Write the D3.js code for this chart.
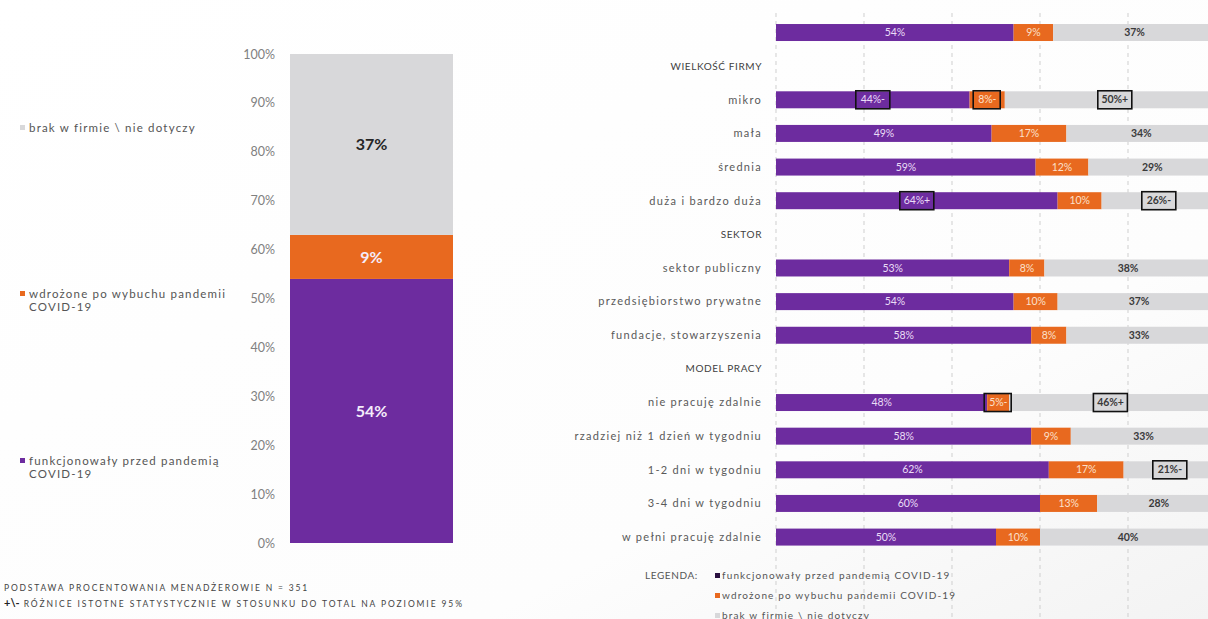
<!DOCTYPE html>
<html lang="pl">
<head>
<meta charset="utf-8">
<script src="https://cdn.jsdelivr.net/npm/d3@7"></script>
<style>
  html, body { margin: 0; padding: 0; background: #fdfdfd; }
  svg { display: block; font-family: Lato, "Liberation Sans", sans-serif; }
</style>
</head>
<body>
<svg id="chart" width="1208" height="619"></svg>
<script>
// --- Overall result (single stacked column) ---
const seriesNames = [
  "funkcjonowały przed pandemią COVID-19",
  "wdrożone po wybuchu pandemii COVID-19",
  "brak w firmie \\ nie dotyczy"
];
const totalValues = [54, 9, 37];
const leftTicks = [0, 10, 20, 30, 40, 50, 60, 70, 80, 90, 100];

// --- Breakdown by subgroup (horizontal stacked bars) ---
const rowLabels = [
  "", "WIELKOŚĆ FIRMY", "mikro", "mała", "średnia", "duża i bardzo duża",
  "SEKTOR", "sektor publiczny", "przedsiębiorstwo prywatne", "fundacje, stowarzyszenia",
  "MODEL PRACY", "nie pracuję zdalnie", "rzadziej niż 1 dzień w tygodniu",
  "1-2 dni w tygodniu", "3-4 dni w tygodniu", "w pełni pracuję zdalnie"
];
const headerRows = ["WIELKOŚĆ FIRMY", "SEKTOR", "MODEL PRACY"];
const beforeVals = [54, null, 44, 49, 59, 64, null, 53, 54, 58, null, 48, 58, 62, 60, 50];
const afterVals  = [ 9, null,  8, 17, 12, 10, null,  8, 10,  8, null,  5,  9, 17, 13, 10];
const noneVals   = [37, null, 50, 34, 29, 26, null, 38, 37, 33, null, 46, 33, 21, 28, 40];
// significance markers vs. total ("+" higher, "-" lower)
const beforeSig = ["", "", "-", "", "", "+", "", "", "", "", "", "", "", "", "", ""];
const afterSig  = ["", "", "-", "", "", "", "", "", "", "", "", "-", "", "", "", ""];
const noneSig   = ["", "", "+", "", "", "-", "", "", "", "", "", "+", "", "-", "", ""];
const gridTicks = [0, 20, 40, 60, 80, 100];

const colors = ["#6d2c9f", "#e8691f", "#d8d8da"];
const labelColors = ["#eadcf6", "#fbe0cc", "#3a3a3a"];

const svg = d3.select("#chart");

// soft slide background shading
const defs = svg.append("defs");
const bg = defs.append("linearGradient").attr("id", "bg").attr("x1", "0").attr("y1", "0").attr("x2", "1").attr("y2", "1");
bg.append("stop").attr("offset", "0").attr("stop-color", "#ffffff");
bg.append("stop").attr("offset", "0.7").attr("stop-color", "#fdfdfd");
bg.append("stop").attr("offset", "1").attr("stop-color", "#f3f3f3");
svg.append("rect").attr("width", 1208).attr("height", 619).attr("fill", "url(#bg)");

// ================= Left: stacked column =================
const yL = d3.scaleLinear().domain([0, 100]).range([543, 54]);
const xL0 = 290, xL1 = 453;

const leftAxis = svg.append("g")
  .attr("transform", "translate(275,0)")
  .call(d3.axisLeft(yL).tickValues(leftTicks).tickSize(0).tickPadding(0).tickFormat(d => d + "%"));
leftAxis.select(".domain").remove();
leftAxis.selectAll("text")
  .attr("fill", "#808080").attr("font-size", 12.5).attr("font-family", "Lato, sans-serif");

let cum = 0;
const stackL = totalValues.map((v, i) => { const s = { i, v, y0: cum, y1: cum + v }; cum += v; return s; });
svg.append("g").selectAll("rect").data(stackL).join("rect")
  .attr("x", xL0).attr("width", xL1 - xL0)
  .attr("y", d => yL(d.y1)).attr("height", d => yL(d.y0) - yL(d.y1))
  .attr("fill", d => colors[d.i]);
svg.append("g").selectAll("text").data(stackL).join("text")
  .attr("x", (xL0 + xL1) / 2)
  .attr("y", d => yL((d.y0 + d.y1) / 2))
  .attr("dy", "0.35em").attr("text-anchor", "middle")
  .attr("font-size", 16).attr("font-weight", "bold")
  .attr("fill", d => d.i === 2 ? "#262626" : "#f4ecfb")
  .text(d => d.v + "%");

// left legend
const leftLegend = [
  { i: 2, y: 128, lines: ["brak w firmie \\ nie dotyczy"] },
  { i: 1, y: 294, lines: ["wdrożone po wybuchu pandemii", "COVID-19"] },
  { i: 0, y: 461, lines: ["funkcjonowały przed pandemią", "COVID-19"] }
];
const lg = svg.append("g").selectAll("g").data(leftLegend).join("g");
lg.append("rect").attr("x", 20).attr("y", d => d.y - 3).attr("width", 5).attr("height", 5)
  .attr("fill", d => colors[d.i]);
lg.each(function(d) {
  const t = d3.select(this).append("text")
    .attr("x", 29).attr("y", d.y)
    .attr("font-size", 11.5).attr("fill", "#555").attr("letter-spacing", 1.2);
  d.lines.forEach((ln, k) => {
    t.append("tspan").attr("x", 29).attr("dy", k === 0 ? "0.35em" : "1.15em").text(ln);
  });
});

// footnotes
svg.append("text").attr("x", 4).attr("y", 588).attr("dy", "0.35em")
  .attr("font-size", 8.5).attr("fill", "#444").attr("letter-spacing", 1.8)
  .text("PODSTAWA PROCENTOWANIA MENADŻEROWIE N = 351");
const fn2 = svg.append("text").attr("x", 4).attr("y", 604).attr("dy", "0.35em")
  .attr("font-size", 8.5).attr("fill", "#444").attr("letter-spacing", 1.9);
fn2.append("tspan").attr("font-size", 11).attr("font-weight", "bold").attr("fill", "#222").attr("letter-spacing", 0).text("+\\-");
fn2.append("tspan").text(" RÓŻNICE ISTOTNE STATYSTYCZNIE W STOSUNKU DO TOTAL NA POZIOMIE 95%");

// ================= Right: horizontal stacked bars =================
const x = d3.scaleLinear().domain([0, 100]).range([776, 1216]);
const y = d3.scaleBand().domain(d3.range(rowLabels.length)).range([15.7, 553.9]).paddingInner(0.495).paddingOuter(0.2475);

// dashed grid lines
svg.append("g").selectAll("line").data(gridTicks).join("line")
  .attr("x1", d => x(d)).attr("x2", d => x(d))
  .attr("y1", 13).attr("y2", 619)
  .attr("stroke", "#cfcfcf").attr("stroke-width", 1).attr("stroke-dasharray", "4,4");

// row labels
svg.append("g").selectAll("text").data(rowLabels.map((l, i) => ({ l, i })).filter(d => d.l)).join("text")
  .attr("x", 762)
  .attr("y", d => y(d.i) + y.bandwidth() / 2)
  .attr("dy", "0.35em").attr("text-anchor", "end")
  .attr("font-size", d => headerRows.includes(d.l) ? 10 : 11)
  .attr("fill", d => headerRows.includes(d.l) ? "#3f3f3f" : "#595959")
  .attr("letter-spacing", d => headerRows.includes(d.l) ? 0.6 : 1.3)
  .text(d => d.l);

// segments
const segs = [];
rowLabels.forEach((l, i) => {
  if (beforeVals[i] == null) return;
  const vals = [beforeVals[i], afterVals[i], noneVals[i]];
  const sigs = [beforeSig[i], afterSig[i], noneSig[i]];
  let c = 0;
  vals.forEach((v, k) => { segs.push({ row: i, k, v, x0: c, x1: c + v, sig: sigs[k] }); c += v; });
});

svg.append("g").selectAll("rect").data(segs).join("rect")
  .attr("x", d => x(d.x0)).attr("width", d => x(d.x1) - x(d.x0))
  .attr("y", d => y(d.row)).attr("height", y.bandwidth())
  .attr("fill", d => colors[d.k]);

const segLabels = svg.append("g").selectAll("g").data(segs).join("g")
  .attr("transform", d => `translate(${x((d.x0 + d.x1) / 2)},${y(d.row) + y.bandwidth() / 2})`);
segLabels.filter(d => d.sig).append("rect")
  .attr("x", d => d.k === 1 ? -14 : -17).attr("width", d => d.k === 1 ? 27 : 34)
  .attr("y", -9).attr("height", 18)
  .attr("fill", "none").attr("stroke", "#111").attr("stroke-width", 1.6);
segLabels.append("text")
  .attr("dy", "0.35em").attr("text-anchor", "middle")
  .attr("font-size", 10.5).attr("letter-spacing", -0.1)
  .attr("font-weight", d => d.k === 2 ? "bold" : "normal")
  .attr("fill", d => labelColors[d.k])
  .text(d => d.v + "%" + d.sig);

// bottom legend
svg.append("text").attr("x", 645).attr("y", 575).attr("dy", "0.35em")
  .attr("font-size", 10).attr("fill", "#555").attr("letter-spacing", 0.6).text("LEGENDA:");
const rl = svg.append("g").selectAll("g").data(seriesNames.map((n, i) => ({ n, i }))).join("g")
  .attr("transform", d => `translate(715,${575 + d.i * 20})`);
rl.append("rect").attr("x", 0).attr("y", -2).attr("width", 5).attr("height", 5).attr("fill", d => d.i === 0 ? "#2a1040" : colors[d.i]);
rl.append("text").attr("x", 7).attr("dy", "0.35em")
  .attr("font-size", 10).attr("fill", "#555").attr("letter-spacing", 1.15)
  .text(d => d.n);
</script>
</body>
</html>
